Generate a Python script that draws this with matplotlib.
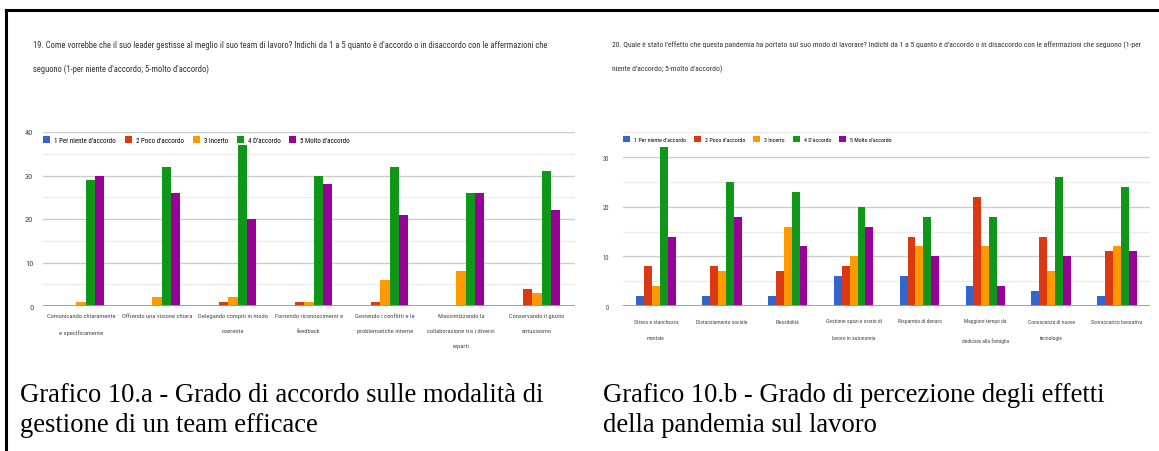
import os
import matplotlib
matplotlib.use("Agg")
import matplotlib.pyplot as plt
from matplotlib import font_manager
from matplotlib.font_manager import FontProperties
from matplotlib.lines import Line2D
from matplotlib.patches import Patch
import numpy as np

# ---- data -------------------------------------------------------------
series_labels = ["1 Per niente d'accordo", "2 Poco d'accordo", "3 Incerto",
                 "4 D'accordo", "5 Molto d'accordo"]
series_colors = ["#3366CC", "#DC3912", "#FF9900", "#109618", "#990099"]

leader_categories = [
    "Comunicando chiaramente\ne specificamente",
    "Offrendo una visione chiara",
    "Delegando compiti in modo\ncoerente",
    "Fornendo riconoscimenti e\nfeedback",
    "Gestendo i conflitti e le\nproblematiche interne",
    "Massimizzando la\ncollaborazione tra i diversi\nreparti",
    "Conservando il giusto\nentusiasmo",
]
leader_1 = [0, 0, 0, 0, 0, 0, 0]
leader_2 = [0, 0, 1, 1, 1, 0, 4]
leader_3 = [1, 2, 2, 1, 6, 8, 3]
leader_4 = [29, 32, 37, 30, 32, 26, 31]
leader_5 = [30, 26, 20, 28, 21, 26, 22]

pandemic_categories = [
    "Stress e stanchezza\nmentale",
    "Distanziamento sociale",
    "Flessibilità",
    "Gestione spazi e orario di\nlavoro in autonomia",
    "Risparmio di denaro",
    "Maggiore tempo da\ndedicare alla famiglia",
    "Conoscenza di nuove\ntecnologie",
    "Sovraccarico lavorativo",
]
pandemic_1 = [2, 2, 2, 6, 6, 4, 3, 2]
pandemic_2 = [8, 8, 7, 8, 14, 22, 14, 11]
pandemic_3 = [4, 7, 16, 10, 12, 12, 7, 12]
pandemic_4 = [32, 25, 23, 20, 18, 18, 26, 24]
pandemic_5 = [14, 18, 12, 16, 10, 4, 10, 11]

title_a = ["19. Come vorrebbe che il suo leader gestisse al meglio il suo team di lavoro? "
           "Indichi da 1 a 5 quanto è d'accordo o in disaccordo con le affermazioni che",
           "seguono (1-per niente d'accordo; 5-molto d'accordo)"]
title_b = ["20. Quale è stato l'effetto che questa pandemia ha portato sul suo modo di lavorare? "
           "Indichi da 1 a 5 quanto è d'accordo o in disaccordo con le affermazioni che seguono (1-per",
           "niente d'accordo; 5-molto d'accordo)"]
caption_a = ["Grafico 10.a - Grado di accordo sulle modalità di",
             "gestione di un team efficace"]
caption_b = ["Grafico 10.b - Grado di percezione degli effetti",
             "della pandemia sul lavoro"]

# ---- fonts ------------------------------------------------------------
def narrow_font_file():
    """Return the path of a regular-weight narrow sans font, if one is installed."""
    files = [f.fname for f in font_manager.fontManager.ttflist]
    wanted = ["RobotoCondensed-Regular", "LiberationSansNarrow-Regular",
              "NotoSans-Condensed.", "NotoSans-SemiCondensed.", "NotoSans-ExtraCondensed.",
              "OpenSans_Condensed-Regular", "OpenSansCondensed-Regular",
              "DejaVuSansCondensed."]
    for key in wanted:
        for path in files:
            if os.path.basename(path).startswith(key):
                return path
    return None

_narrow = narrow_font_file()
if _narrow:
    def sans(size):
        return FontProperties(fname=_narrow, size=size)
else:
    def sans(size):
        return FontProperties(family="Roboto", size=size)

def serif(size):
    return FontProperties(family=["Liberation Serif", "DejaVu Serif"], size=size)

W, H = 1159, 452
fig = plt.figure(figsize=(W / 100, H / 100), dpi=100)
fig.patch.set_facecolor("white")
renderer = fig.canvas.get_renderer()

def fx(px):
    return px / W

def fy(py):
    return 1 - py / H

def fitted(sample, target_px, maker, base=10.0):
    """Font size at which `sample` is `target_px` pixels wide."""
    t = fig.text(0, 0, sample, fontproperties=maker(base))
    w = t.get_window_extent(renderer=renderer).width
    t.remove()
    return base * target_px / w

# ---- frame lines ------------------------------------------------------
fig.add_artist(Line2D([fx(6), 1.0], [fy(11), fy(11)], transform=fig.transFigure,
                      color="black", lw=2.2))
fig.add_artist(Line2D([fx(6), fx(6)], [fy(11), 0.0], transform=fig.transFigure,
                      color="black", lw=2.2))

# ---- question titles --------------------------------------------------
size_ta = fitted(title_a[0], 515, sans)
fig.text(fx(33), fy(45), title_a[0], fontproperties=sans(size_ta), color="#333333", va="center")
fig.text(fx(33), fy(69), title_a[1], fontproperties=sans(size_ta), color="#333333", va="center")
size_tb = fitted(title_b[0], 523, sans)
fig.text(fx(612), fy(45), title_b[0], fontproperties=sans(size_tb), color="#333333", va="center")
fig.text(fx(612), fy(69), title_b[1], fontproperties=sans(size_tb), color="#333333", va="center")

# ---- captions ---------------------------------------------------------
size_c = fitted(caption_a[0], 525, serif)
fig.text(fx(20), fy(396), caption_a[0], fontproperties=serif(size_c), color="black", va="center")
fig.text(fx(20), fy(426), caption_a[1], fontproperties=serif(size_c), color="black", va="center")
fig.text(fx(603), fy(396), caption_b[0], fontproperties=serif(size_c), color="black", va="center")
fig.text(fx(603), fy(426), caption_b[1], fontproperties=serif(size_c), color="black", va="center")

# ---- bar charts -------------------------------------------------------
def bar_chart(rect, categories, series, ymax, yticks, legend_y,
              tick_size, ytick_size, legend_size, ypad, xpad, line_px, square_px, gap_px):
    ax = fig.add_axes(rect)
    n = len(categories)
    x = np.arange(n)
    width = 0.12
    for i, (vals, col, lab) in enumerate(zip(series, series_colors, series_labels)):
        ax.bar(x + (i - 2) * width, vals, width, color=col, label=lab, zorder=3, linewidth=0)
    ax.set_xlim(-0.5, n - 0.5)
    ax.set_ylim(0, ymax)
    for v in range(5, ymax + 1, 5):
        major = v % 10 == 0
        ax.axhline(v, color="#cccccc" if major else "#ebebeb", lw=1.0, zorder=1)
    ax.axhline(0, color="#9a9a9a", lw=1.3, zorder=4)

    tick_px = tick_size * 100 / 72
    ax.set_yticks(yticks)
    ax.set_yticklabels([str(v) for v in yticks])
    ax.set_xticks(x)
    ax.set_xticklabels(categories, linespacing=line_px / (tick_px * 0.66))
    for lab in ax.get_xticklabels():
        lab.set_fontproperties(sans(tick_size))
        lab.set_color("#444444")
    for lab in ax.get_yticklabels():
        lab.set_fontproperties(sans(ytick_size))
        lab.set_color("#444444")
    ax.tick_params(axis="both", length=0)
    ax.tick_params(axis="x", pad=xpad)
    ax.tick_params(axis="y", pad=ypad)
    for s in ax.spines.values():
        s.set_visible(False)

    leg_px = legend_size * 100 / 72
    handles = [Patch(facecolor=c, edgecolor="none") for c in series_colors]
    ax.legend(handles, series_labels, ncol=5, loc="center left",
              bbox_to_anchor=(0.0, legend_y), frameon=False, borderaxespad=0,
              borderpad=0, handlelength=square_px / leg_px, handleheight=square_px / leg_px,
              handletextpad=4 / leg_px, columnspacing=gap_px / leg_px,
              prop=sans(legend_size))
    ax.set_facecolor("none")
    return ax

tick_a = fitted("Offrendo una visione chiara", 70, sans)
leg_a = fitted(series_labels[0], 60, sans)
bar_chart([fx(43), fy(307), (575 - 43) / W, 174 / H], leader_categories,
          [leader_1, leader_2, leader_3, leader_4, leader_5], 40, [0, 10, 20, 30, 40],
          (307 - 141) / 174, tick_a, tick_a * 1.3, leg_a, 7, 5, 15, 7, 9)

tick_b = fitted("Distanziamento sociale", 52, sans)
leg_b = fitted(series_labels[0], 51, sans)
bar_chart([fx(623), fy(307), (1150 - 623) / W, (307 - 133.3) / H], pandemic_categories,
          [pandemic_1, pandemic_2, pandemic_3, pandemic_4, pandemic_5], 35, [0, 10, 20, 30],
          (307 - 140) / (307 - 133.3), tick_b, tick_b * 1.15, leg_b, 10, 9, 15, 7, 8)

fig.savefig("out.png", dpi=100, facecolor="white")
